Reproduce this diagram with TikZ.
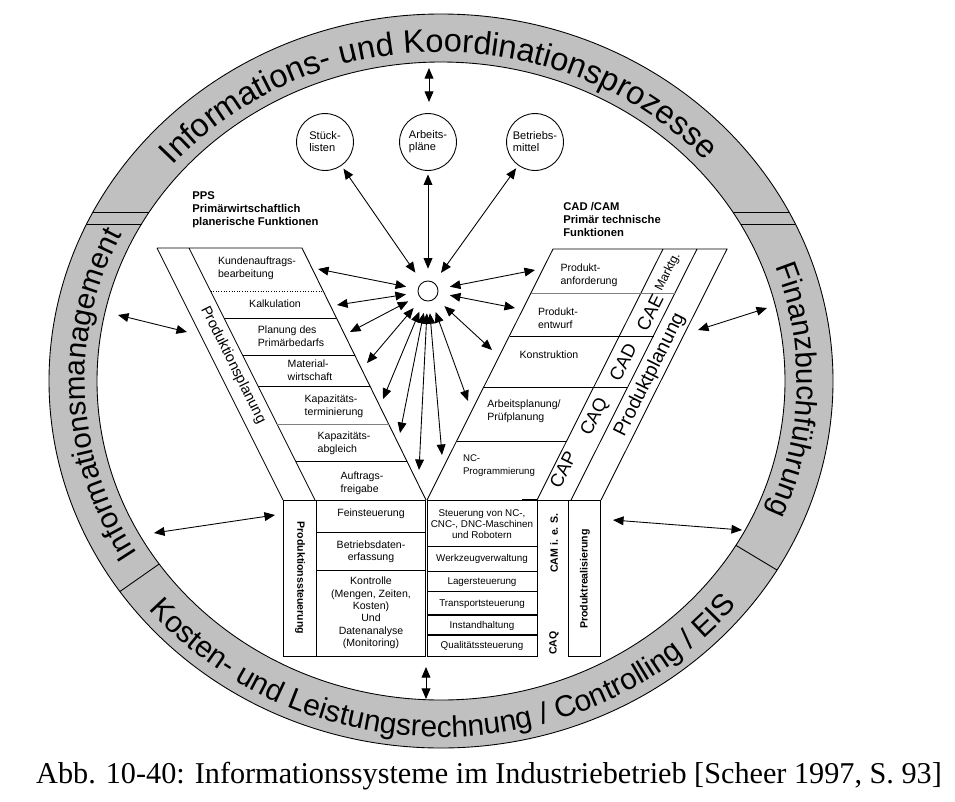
\documentclass[tikz,border=0pt]{standalone}
\usepackage{fontspec}
\setmainfont{Liberation Sans}
\newfontfamily\capfont{Liberation Serif}
\usetikzlibrary{arrows.meta, decorations.text}
\definecolor{ringgray}{RGB}{192,192,192}

\begin{document}
\begin{tikzpicture}[x=0.02cm, y=-0.02cm,
  ln/.style={line width=0.5pt},
  flow/.style={{Triangle[length=6pt,width=5pt]}-{Triangle[length=6pt,width=5pt]},line width=0.5pt},
  cell/.style={font=\fontsize{6}{7.6}\selectfont,align=left,inner sep=0pt},
  cellc/.style={font=\fontsize{6}{7}\selectfont,align=center,inner sep=0pt},
  small/.style={font=\fontsize{5.6}{6.2}\selectfont,align=center,inner sep=0pt},
  hdr/.style={font=\fontsize{6.4}{7.4}\selectfont\bfseries,align=left,inner sep=0pt,anchor=west},
  vlbl/.style={font=\fontsize{6}{7}\selectfont\bfseries,inner sep=0pt},
  cax/.style={font=\fontsize{10.5}{10.5}\selectfont,rotate=63.4,inner sep=0pt},
  dbase/.style={circle,draw,line width=0.5pt,minimum size=32.4pt,inner sep=0pt,align=left,font=\fontsize{6.3}{6.8}\selectfont}
]
  \useasboundingbox (0,0) rectangle (955,801);

  \begin{scope}[shift={(441,381)}, y=0.02cm]
    \fill[ringgray, even odd rule] (0,0) ellipse[x radius=392, y radius=367] (0,0) ellipse[x radius=344, y radius=319];
    \draw[ln] (0,0) ellipse[x radius=392, y radius=367] (0,0) ellipse[x radius=344, y radius=319];
    \draw[ln] (-348,169) -- (-291.7,169) (-354.3,157) -- (-299.5,157);
    \draw[ln] (348,169) -- (291.7,169) (354.3,157) -- (299.5,157);
    \draw[ln] (215:344 and 319) -- (215:392 and 367);
    \draw[ln] (-31:344 and 319) -- (-31:392 and 367);
    \path[decorate, decoration={text along path, text align=center,
      text={|\fontsize{18.5}{18.5}\selectfont|Informations- und Koordinationsprozesse}}]
      (171:355 and 329) arc[start angle=171, end angle=10, x radius=355, y radius=329];
    \path[decorate, decoration={text along path, text align=center,
      text={|\fontsize{16.8}{16.8}\selectfont|Informationsmanagement}}]
      (225:356 and 330) arc[start angle=225, end angle=140, x radius=356, y radius=330];
    \path[decorate, decoration={text along path, text align=center,
      text={|\fontsize{16.8}{16.8}\selectfont|Finanzbuchführung}}]
      (40:356 and 330) arc[start angle=40, end angle=-43, x radius=356, y radius=330];
    \path[decorate, decoration={text along path, text align=center,
      text={|\fontsize{17}{17}\selectfont|Kosten- und Leistungsrechnung / Controlling / EIS}}]
      (200:381 and 356) arc[start angle=200, end angle=341, x radius=381, y radius=356];
  \end{scope}

  \draw[ln] (157,248) -- (302,248) -- (426,500) (157,248) -- (283,500) (189,248) -- (315,500);
  \draw[ln, densely dotted] (210.5,291) -- (323.2,291);
  \draw[ln] (224,318) -- (336.4,318) (242.5,355) -- (354.6,355) (258,386) -- (369.9,386) (295.5,461) -- (406.8,461);
  \draw[ln, gray] (277,424) -- (388.6,424);

  \draw[ln] (427,500) -- (553,249) -- (727,249) -- (601,500) (663,249) -- (537,500) (697,249) -- (571,500);
  \draw[ln, gray] (531,293) -- (675,293);
  \draw[ln] (509.5,336) -- (653.5,336) (484,387) -- (628,387) (457,441) -- (567,441);

  \draw[ln] (283,500) rectangle (425,656) (316,500) -- (316,656) (316,532) -- (425,532) (316,570) -- (425,570);
  \draw[ln] (427,500) rectangle (537,656) (427,546) -- (537,546) (427,571) -- (537,571) (427,591) -- (537,591);
  \draw[line width=1.2pt] (427,615) -- (537,615) (427,635) -- (537,635) (522,500) -- (537,500);
  \draw[ln] (537,500) -- (568,500) (568,500) rectangle (600,656);

  \node[circle,draw,ln,minimum size=11.4pt,inner sep=0pt] (hub) at (428,291) {};
  \node[circle,minimum size=25pt,inner sep=0pt] (hubr) at (428,291) {};

  \node[dbase] (stl) at (325,142) {Stück-\\listen};
  \node[dbase] (arb) at (428,142) {Arbeits-\\pläne};
  \node[dbase] (bm)  at (535,142) {Betriebs-\\mittel};

  \node[hdr] (pps) at (192,210) {PPS\\Primärwirtschaftlich\\planerische Funktionen};
  \node[hdr] (cam) at (563,219) {CAD /CAM\\Primär technische\\Funktionen};

  \node[cell] (kbaT) at (257,268) {Kundenauftrags-\\bearbeitung};
  \node[cell] (kalkT) at (275,304) {Kalkulation};
  \node[cell] (ppbT) at (291,336) {Planung des\\Primärbedarfs};
  \node[cell] (mwT) at (310,370) {Material-\\wirtschaft};
  \node[cell] (ktT) at (334,406) {Kapazitäts-\\terminierung};
  \node[cell] (kaT) at (344,443) {Kapazitäts-\\abgleich};
  \node[cell] (afT) at (362,483) {Auftrags-\\freigabe};

  \node[cell] (paT) at (589,275) {Produkt-\\anforderung};
  \node[cell] (peT) at (558,318) {Produkt-\\entwurf};
  \node[cell] (konT) at (549,355) {Konstruktion};
  \node[cell] (apT) at (524,411) {Arbeitsplanung/\\Prüfplanung};
  \node[cell, font=\fontsize{5.5}{7.4}\selectfont] (ncT) at (499,466) {NC-\\Programmierung};

  \node[font=\fontsize{8.3}{8.3}\selectfont, rotate=-63.4, inner sep=0pt] (pplT) at (233,365) {Produktionsplanung};
  \node[font=\fontsize{11}{11}\selectfont, rotate=63.4, inner sep=0pt] (pprT) at (650,375) {Produktplanung};
  \node[cax, font=\fontsize{7}{7}\selectfont] (mkT) at (668,272) {Marktg.};
  \node[cax] (caeT) at (650,313) {CAE};
  \node[cax] (cadT) at (623,362) {CAD};
  \node[cax] (caqT) at (595,417) {CAQ};
  \node[cax] (capT) at (563,470) {CAP};

  \node[vlbl, rotate=-90] (pstT) at (300,578) {Produktionssteuerung};
  \node[vlbl, rotate=90] (prlT) at (585,579) {Produktrealisierung};
  \node[vlbl, rotate=90] (camT) at (554,543) {CAM i. e. S.};
  \node[vlbl, rotate=90] (caq2T) at (554,643) {CAQ};

  \node[cellc] (fsT) at (371,514) {Feinsteuerung};
  \node[cellc] (bdeT) at (371,552) {Betriebsdaten-\\erfassung};
  \node[cellc] (kontT) at (371,613) {Kontrolle\\(Mengen, Zeiten,\\Kosten)\\Und\\Datenanalyse\\(Monitoring)};

  \node[small] (ncsT) at (482,524) {Steuerung von NC-,\\CNC-, DNC-Maschinen\\und Robotern};
  \node[small] (wzT) at (482,559) {Werkzeugverwaltung};
  \node[small] (lsT) at (482,582) {Lagersteuerung};
  \node[small] (tsT) at (482,604) {Transportsteuerung};
  \node[small] (ihT) at (482,626) {Instandhaltung};
  \node[small] (qsT) at (482,646) {Qualitätssteuerung};

  \node[font=\capfont\fontsize{17.2}{20}\selectfont, inner sep=0pt] (cap) at (489,776) {Abb. 10-40: Informationssysteme im Industriebetrieb [Scheer 1997, S. 93]};

  \coordinate (kba) at (318,269);
  \coordinate (kalk) at (337,305);
  \coordinate (ppb) at (350,332);
  \coordinate (mw) at (367,363);
  \coordinate (kt) at (383,399);
  \coordinate (ka) at (400,433);
  \coordinate (af) at (419,470);
  \coordinate (pa) at (535,270);
  \coordinate (pe) at (515,308);
  \coordinate (kon) at (492,350);
  \coordinate (ap) at (468,401);
  \coordinate (nc) at (442,455);

  \coordinate (ringtop) at (429,68);
  \coordinate (arbtop) at (429,102);
  \coordinate (blkbot) at (426,667);
  \coordinate (ringbot) at (426,699);
  \coordinate (ringl1) at (118,315);
  \coordinate (ppl) at (187,332);
  \coordinate (ringl2) at (154,533);
  \coordinate (pst) at (275,515);
  \coordinate (ringr1) at (767,308);
  \coordinate (ppr) at (698,330);
  \coordinate (ringr2) at (742,530);
  \coordinate (prl) at (613,520);

  \draw[flow, shorten >=2pt] (hubr) -- (stl);
  \draw[flow, shorten >=2pt] (hubr) -- (arb);
  \draw[flow, shorten >=2pt] (hubr) -- (bm);
  \draw[flow] (hubr) -- (kba);
  \draw[flow] (hubr) -- (kalk);
  \draw[flow] (hubr) -- (ppb);
  \draw[flow] (hubr) -- (mw);
  \draw[flow] (hubr) -- (kt);
  \draw[flow] (hubr) -- (ka);
  \draw[flow] (hubr) -- (af);
  \draw[flow] (hubr) -- (pa);
  \draw[flow] (hubr) -- (pe);
  \draw[flow] (hubr) -- (kon);
  \draw[flow] (hubr) -- (ap);
  \draw[flow] (hubr) -- (nc);

  \draw[flow] (ringtop) -- (arbtop);
  \draw[flow] (blkbot) -- (ringbot);
  \draw[flow] (ringl1) -- (ppl);
  \draw[flow] (ringl2) -- (pst);
  \draw[flow] (ringr1) -- (ppr);
  \draw[flow] (ringr2) -- (prl);
\end{tikzpicture}
\end{document}
